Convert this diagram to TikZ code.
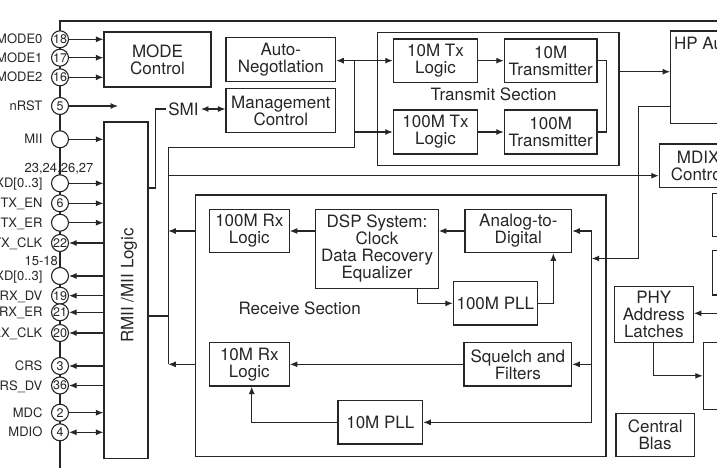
\documentclass[tikz,border=0pt]{standalone}
\usepackage{fontspec}
\setmainfont{TeX Gyre Heros}
\usepackage{tikz}
\usetikzlibrary{arrows.meta,positioning,calc}

\begin{document}
\begin{tikzpicture}[x=1pt,y=-1pt,line width=1.1pt,color=black!85,
  >={Latex[length=7.5pt,width=6pt]},
  blk/.style 2 args={draw,align=center,inner sep=0pt,minimum width=#1pt,minimum height=#2pt,font=\fontsize{17}{17}\selectfont},
  lbl/.style={inner sep=0pt,font=\fontsize{17}{17}\selectfont},
  pin/.style={draw,circle,fill=white,minimum size=17pt,inner sep=0pt,font=\fontsize{12.5}{12.5}\selectfont},
  pinlbl/.style={inner sep=0pt,text height=9.3pt,text depth=0pt,font=\fontsize{13}{15}\selectfont}]
  \path[use as bounding box,clip] (0,0) rectangle (717,468);

  % チップ外形
  \draw (730,21) -- (60,21) -- (60,475);

  % ピン
  \foreach \y/\num/\txt [count=\i] in {39.3/18/MODE0,57.7/17/MODE1,77.3/16/MODE2,106/5/nRST,
      139.3//MII,183.3//{TXD[0..3]},203.3/6/TX\_EN,222.7//TX\_ER,243/22/TX\_CLK,
      276//{RXD[0..3]},295.7/19/RX\_DV,312.3/21/RX\_ER,333/20/RX\_CLK,
      366/3/CRS,385.5/36/CRS\_DV,412.7/2/MDC,432.3/4/MDIO} {
    \node[pin] (p\i) at (60,\y) {\num};
    \node[pinlbl,left=8pt of p\i] (l\i) {\txt};
  }
  \node[pinlbl] (txdnum) at (59,168.3) {23,24,26,27};
  \node[pinlbl,anchor=east] (rxdnum) at (58.5,261) {15-18};

  % ブロック
  \node[blk={107}{55}] (modectl) at (157.5,59.5) {MODE\\Control};
  \node[blk={109.7}{44.4}] (autoneg) at (280.85,59.5) {Auto-\\Negotlation};
  \node[blk={109.7}{44.4}] (mgmt) at (280.85,110.5) {Management\\Control};
  \node[blk={44}{336.7}] (rmii) at (126,290.35) {};
  \node[lbl,rotate=90] (rmiitxt) at (129,285.5) {RMII /MII Logic};
  \node[lbl,inner sep=1.8pt] (smi) at (183.5,109) {SMI};

  \node[blk={241.3}{133}] (txsec) at (498.35,99.2) {};
  \node[lbl] (txtitle) at (493.7,94.2) {Transmit Section};
  \node[blk={84.4}{43.3}] (tx10) at (435.5,60.65) {10M Tx\\Logic};
  \node[blk={92.7}{43.3}] (xmit10) at (550.65,60.65) {10M\\Transmitter};
  \node[blk={84.4}{44}] (tx100) at (435.5,132) {100M Tx\\Logic};
  \node[blk={92.7}{44}] (xmit100) at (550.65,132) {100M\\Transmitter};

  \node[blk={119.3}{92.7}] (hpmdix) at (730.35,77.35) {};
  \node[lbl,anchor=base west] (hptxt) at (673.5,50) {HP Auto-MDIX};
  \node[blk={77.7}{43.7}] (mdixctl) at (698.15,165.85) {MDIX\\Control};

  \node[blk={410.3}{261.7}] (rxsec) at (400.85,325.85) {};
  \node[lbl] (rxtitle) at (299.7,308.7) {Receive Section};
  \node[blk={80}{43.4}] (rx100) at (249.3,231) {100M Rx\\Logic};
  \node[blk={122.6}{79}] (dsp) at (377,248.8) {DSP System:\\Clock\\Data Recovery\\Equalizer};
  \node[blk={106.7}{43.4}] (adc) at (518.35,231) {Analog-to-\\Digital};
  \node[blk={84}{43.3}] (pll100) at (495.3,303.35) {100M PLL};
  \node[blk={80}{43.3}] (rx10) at (249.3,364.35) {10M Rx\\Logic};
  \node[blk={107.7}{43.3}] (squelch) at (517.85,364.35) {Squelch and\\Filters};
  \node[blk={84.7}{43.3}] (pll10) at (380.35,422.35) {10M PLL};

  \node[blk={79}{55.6}] (phyaddr) at (653.8,314.5) {PHY\\Address\\Latches};
  \node[blk={78.3}{43.4}] (bias) at (655.15,435) {Central\\Blas};
  \node[blk={77.3}{43.4}] (rbox1) at (751.35,215) {};
  \node[blk={77.3}{44.3}] (rbox2) at (751.35,272.85) {};
  \node[blk={86.7}{67}] (rbox3) at (746.65,375.8) {};

  % 補助座標
  \coordinate (anbr) at (354.3,60.65);
  \coordinate (bustop) at (168.3,147.7);
  \coordinate (rst) at (118,106);
  \coordinate (rxin) at (591.7,258.5);
  \coordinate (hpturn) at (638.3,258.5);
  \coordinate (phyin) at (725,313.3);
  \coordinate (smiout) at ([yshift=102.35pt]rmii.east);
  \coordinate (rmiiout) at ([yshift=-25.65pt]rmii.east);
  \coordinate (txout) at ([yshift=27.5pt]txsec.east);
  \coordinate (hpout) at ([yshift=-29.35pt]hpmdix.west);
  \coordinate (mdixin) at ([yshift=-9.85pt]mdixctl.west);

  % ピンの矢印
  \foreach \i in {1,2,3} \draw[->] (p\i) -- (p\i -| modectl.west);
  \draw[->] (p4) -- (rst);
  \foreach \i/\dir in {5/->,6/->,7/->,8/->,9/<-,10/<-,11/<-,12/<-,13/<-,14/<-,15/<-,16/->,17/<->}
    \draw[\dir] (p\i) -- (p\i -| rmii.west);

  % SMI とバス
  \draw (smiout) -- ++(6.5,0) |- (smi.west);
  \draw[<->] (smi.east) -- (smi.east -| mgmt.west);
  \draw[<->] (tx10.west -| autoneg.east) -- (tx10.west);
  \draw[->] (anbr) |- (tx100.west);
  \draw (anbr) |- (bustop) -- (bustop |- rx10);
  \draw[->] (mdixin -| bustop) -- (mdixin);
  \draw (rmiiout) -- (rmiiout -| bustop);
  \draw[->] (rxsec.west |- rx100) -- (bustop |- rx100);
  \draw[->] (rxsec.west |- rx10) -- (bustop |- rx10);

  % 送信部
  \draw[->] (tx10) -- (xmit10);
  \draw[->] (tx100) -- (xmit100);
  \draw (xmit10.east) -- ++(8.7,0) |- (xmit100.east);
  \draw[->] (txout) -- (txout -| hpmdix.west);
  \draw[->] (hpout) -| (hpturn) -- (rxin);

  % 受信部
  \draw (rxin |- adc) -- (rxin |- pll10);
  \foreach \b in {adc,squelch,pll10} \draw[->] (rxin |- \b) -- (\b.east);
  \draw[->] (adc.west) -- (adc.west -| dsp.east);
  \draw[->] (adc.west -| dsp.west) -- (rx100.east);
  \draw[->] ([xshift=40.3pt]dsp.south) |- (pll100.west);
  \draw[->] (pll100.east) -| ([xshift=35pt]adc.south);
  \draw[->] (squelch) -- (rx10);
  \draw[->] (pll10.west) -| ([xshift=2.4pt]rx10.south);

  % PHY アドレス
  \draw[->] (phyin) -- (phyin -| phyaddr.east);
  \draw[->] (phyaddr.south) |- (rbox3.west);
\end{tikzpicture}
\end{document}
